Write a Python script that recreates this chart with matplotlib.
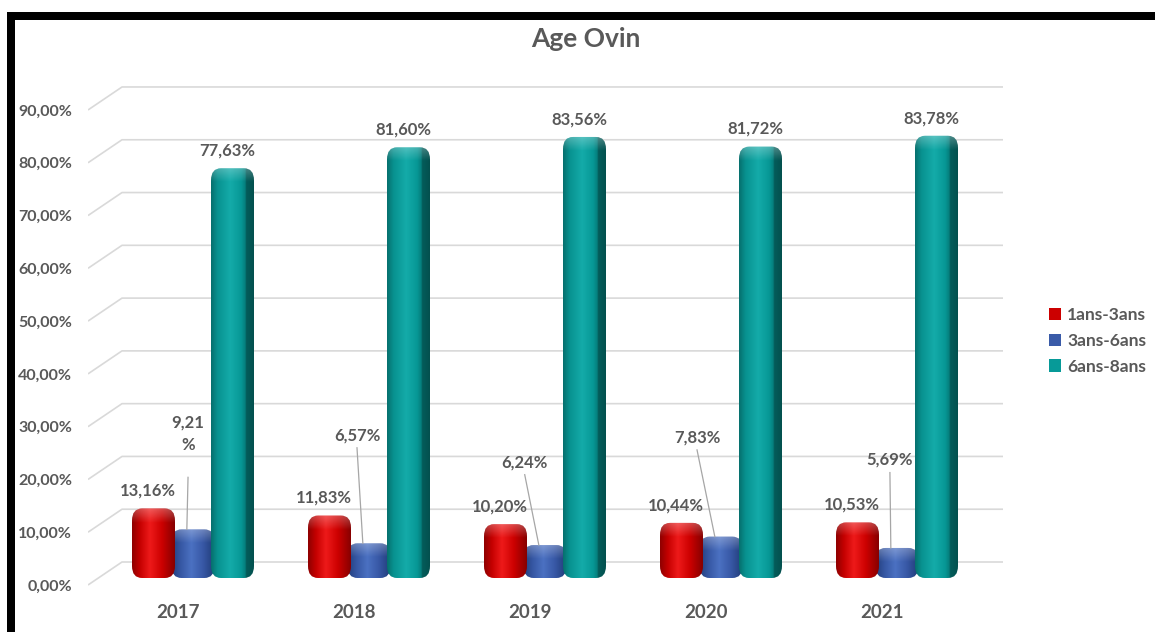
import matplotlib.pyplot as plt
import numpy as np
from matplotlib.colors import LinearSegmentedColormap
from matplotlib.patches import FancyBboxPatch, Patch, Rectangle

years = ["2017", "2018", "2019", "2020", "2021"]
series = ["1ans-3ans", "3ans-6ans", "6ans-8ans"]
age_1_3 = [13.16, 11.83, 10.20, 10.44, 10.53]
age_3_6 = [9.21, 6.57, 6.24, 7.83, 5.69]
age_6_8 = [77.63, 81.60, 83.56, 81.72, 83.78]
yticks = [0, 10, 20, 30, 40, 50, 60, 70, 80, 90]

# label text for the middle series (2017 label wraps onto two lines)
mid_labels = ["9,21\n%", "6,57%", "6,24%", "7,83%", "5,69%"]
# where the middle-series labels sit, in (category, value) coordinates
mid_label_pos = [(0.057, 28.6), (1.017, 28.4), (1.97, 23.3), (2.949, 28.0), (4.045, 23.7)]

GREY = "#595959"
FONT = "Lato"

W, H = 1155, 632
fig = plt.figure(figsize=(W / 100, H / 100), dpi=100)
fig.patch.set_facecolor("white")

# axes placed so that category 0 sits at x=178px and value 0 at y=585px
ax = fig.add_axes([88 / W, 32 / H, 915 / W, 520 / H])
px_per_cat = 176.0
px_per_val = 5.278
xlim = ((88 - 178) / px_per_cat, (1003 - 178) / px_per_cat)
ylim = ((585 - 600) / px_per_val, (585 - 80) / px_per_val)

# back wall gridlines with their short perspective run on the left
depth_dx = 34 / px_per_cat
depth_dy = 23 / px_per_val
for v in yticks:
    ax.plot([xlim[0], xlim[0] + depth_dx, xlim[1]], [v, v + depth_dy, v + depth_dy],
            color="#D9D9D9", lw=1.2, zorder=1, solid_capstyle="butt")

floor = 7 / px_per_val
width = 43 / px_per_cat
offsets = [-24.5 / px_per_cat, 15 / px_per_cat, 54.5 / px_per_cat]

cmaps = [
    LinearSegmentedColormap.from_list("red3d", [(0, "#8E0000"), (0.18, "#C40000"), (0.42, "#EE1A1A"),
                                                (0.7, "#CC0000"), (1, "#860000")]),
    LinearSegmentedColormap.from_list("blue3d", [(0, "#23407E"), (0.2, "#3657A3"), (0.45, "#4B71C2"),
                                                 (0.72, "#3858A6"), (1, "#203B75")]),
    LinearSegmentedColormap.from_list("teal3d", [(0, "#066F6D"), (0.15, "#08918F"), (0.45, "#14ABA9"),
                                                 (0.7, "#079896"), (0.8, "#057F7D"), (0.82, "#045D5B"),
                                                 (1, "#03504E")]),
]
face = ["#CC0000", "#3A5BA8", "#079A98"]
zorders = [4, 3, 5]

x = np.arange(len(years))
all_vals = [age_1_3, age_3_6, age_6_8]
bars = []
round_x = 10 / px_per_cat
round_aspect = (12 / px_per_val) / round_x
grad = np.linspace(0, 1, 256).reshape(1, -1)
# soft light band across the rounded top of each bar
cap = np.zeros((64, 1, 4))
cap[..., :3] = 1.0
cap[:, 0, 3] = np.linspace(0.28, 0.0, 64)
for i, vals in enumerate(all_vals):
    b = ax.bar(x + offsets[i], vals, width, bottom=floor, color=face[i], zorder=zorders[i])
    bars.append(b)
    for rect in b:
        x0, y0 = rect.get_x(), rect.get_y()
        w, h = rect.get_width(), rect.get_height()
        shape = FancyBboxPatch((x0, y0), w, h,
                               boxstyle=f"round,pad=0,rounding_size={round_x}",
                               mutation_aspect=round_aspect, facecolor="none",
                               edgecolor="none", zorder=zorders[i])
        ax.add_patch(shape)
        im = ax.imshow(grad, cmap=cmaps[i], extent=(x0, x0 + w, y0, y0 + h),
                       aspect="auto", interpolation="bilinear", zorder=zorders[i])
        im.set_clip_path(shape)
        cap_h = 14 / px_per_val
        hi = ax.imshow(cap, extent=(x0, x0 + w, y0 + h - cap_h, y0 + h), origin="upper",
                       aspect="auto", interpolation="bilinear", zorder=zorders[i] + 0.1)
        hi.set_clip_path(shape)
        rect.set_visible(False)


def fr(v):
    return f"{v:.2f}".replace(".", ",") + "%"


label_kw = dict(fontsize=12, fontweight="bold", color=GREY, family=FONT, zorder=10)

# outer series labels sit just above their bars
for i in (0, 2):
    for rect, v in zip(bars[i], all_vals[i]):
        ax.annotate(fr(v), (rect.get_x() + rect.get_width() / 2, floor + v),
                    xytext=(-4, 7), textcoords="offset points",
                    ha="center", va="bottom", **label_kw)

# middle series labels with leader lines
for rect, v, txt, (lx, ly) in zip(bars[1], age_3_6, mid_labels, mid_label_pos):
    end_x = rect.get_x() + rect.get_width() / 2 - 0.035
    ax.text(lx, ly, txt, ha="center", va="center", linespacing=1.5, **label_kw)
    top = ly - (8.2 if "\n" in txt else 2.4)
    ax.plot([lx, end_x], [top, floor + v], color="#A6A6A6", lw=0.9, zorder=9)

ax.set_xlim(xlim)
ax.set_ylim(ylim)
ax.set_yticks(yticks)
ax.set_yticklabels([fr(v) for v in yticks])
ax.set_xticks(x)
ax.set_xticklabels(years)
ax.tick_params(axis="y", length=0, pad=11.5, labelsize=11.5, labelcolor=GREY)
ax.tick_params(axis="x", length=0, pad=3, labelsize=13.5, labelcolor=GREY)
for lab in ax.get_yticklabels() + ax.get_xticklabels():
    lab.set_fontweight("bold")
    lab.set_family(FONT)
for s in ax.spines.values():
    s.set_visible(False)
ax.patch.set_visible(False)

fig.text(586 / W, 1 - 47 / H, "Age Ovin", ha="center", va="baseline",
         fontsize=19, fontweight="bold", color=GREY, family=FONT)

handles = [Patch(facecolor=c, edgecolor="none") for c in face]
fig.legend(handles, series, loc="center left", bbox_to_anchor=(1049 / W, 1 - 341 / H),
           frameon=False, handlelength=0.7, handleheight=0.7, handletextpad=0.35,
           labelspacing=0.55, prop=dict(family=FONT, weight="bold", size=12.5),
           labelcolor=GREY, borderaxespad=0, borderpad=0)

# heavy black frame along the top and left edges
fig.add_artist(Rectangle((7 / W, 0), 8 / W, 1 - 12 / H, transform=fig.transFigure,
                         facecolor="black", edgecolor="none"))
fig.add_artist(Rectangle((7 / W, 1 - 20 / H), 1 - 7 / W, 8 / H, transform=fig.transFigure,
                         facecolor="black", edgecolor="none"))

fig.savefig("out.png", dpi=100)
